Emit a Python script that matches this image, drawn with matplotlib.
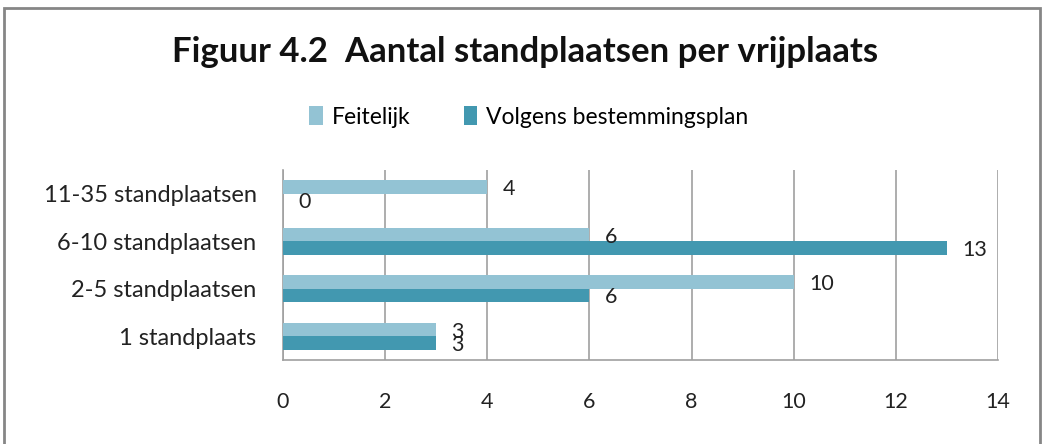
import matplotlib.pyplot as plt
import numpy as np
from matplotlib.patches import Rectangle

categorieen = ['1 standplaats', '2-5 standplaatsen', '6-10 standplaatsen', '11-35 standplaatsen']
feitelijk = [3, 10, 6, 4]
bestemmingsplan = [3, 6, 13, 0]
x_ticks = [0, 2, 4, 6, 8, 10, 12, 14]

kleur_licht = '#93c3d4'
kleur_donker = '#4298b0'

plt.rcParams['font.family'] = ['Lato', 'DejaVu Sans']

fig = plt.figure(figsize=(10.44, 4.44), dpi=100)
ax = fig.add_axes([283 / 1044, 1 - 360 / 444, (998 - 283) / 1044, 190 / 444])

y = np.arange(len(categorieen))
h = 0.28
b1 = ax.barh(y + h / 2, feitelijk, height=h, color=kleur_licht, label='Feitelijk', zorder=3)
b2 = ax.barh(y - h / 2, bestemmingsplan, height=h, color=kleur_donker, label='Volgens bestemmingsplan', zorder=3)

# waarden naast de balken
for bars in (b1, b2):
    for rect in bars:
        w = rect.get_width()
        ax.annotate(f'{w:g}', (w, rect.get_y() + rect.get_height() / 2),
                    xytext=(11, -1.5), textcoords='offset points', ha='left', va='center',
                    fontsize=15.5, color='#222222')

ax.set_xlim(0, 14)
ax.set_ylim(-0.5, len(categorieen) - 0.5)
ax.set_xticks(x_ticks)
ax.set_yticks(y)
ax.set_yticklabels(categorieen)
ax.tick_params(axis='x', length=0, pad=23, labelsize=15.5, colors='#222222')
ax.tick_params(axis='y', length=0, pad=19, labelsize=17, colors='#222222')
ax.grid(axis='x', color='#a0a0a0', linewidth=1.2, zorder=0)
for s in ('top', 'right'):
    ax.spines[s].set_visible(False)
for s in ('left', 'bottom'):
    ax.spines[s].set_color('#a0a0a0')
    ax.spines[s].set_linewidth(1.2)

fig.text(525 / 1044, 1 - 52 / 444, 'Figuur 4.2  Aantal standplaatsen per vrijplaats',
         ha='center', va='center', fontsize=25, fontweight='bold', color='#111111')

fig.legend(handles=[b1, b2], loc='center', bbox_to_anchor=(529 / 1044, 1 - 117 / 444),
           ncol=2, frameon=False, fontsize=16.5, handlelength=0.6, handleheight=0.9,
           handletextpad=0.4, columnspacing=2.3)

fig.patches.append(Rectangle((4 / 1044, -0.05), (1040 - 4) / 1044, 1.05 - 8 / 444,
                             transform=fig.transFigure, fill=False,
                             edgecolor='#868686', linewidth=2))

fig.savefig('out.png', dpi=100)
